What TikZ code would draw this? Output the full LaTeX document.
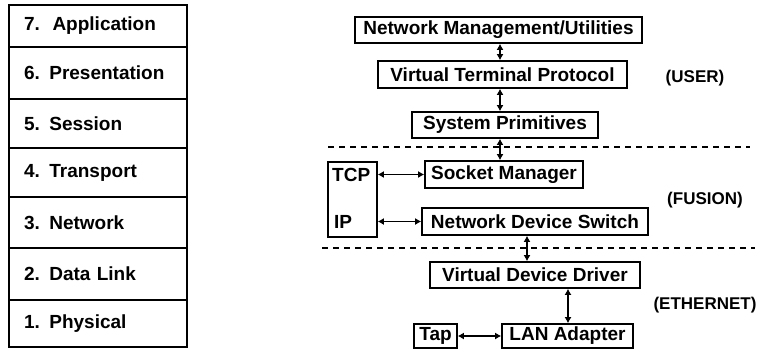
\documentclass[tikz,border=0pt]{standalone}
\usepackage{fontspec}
\setmainfont{Liberation Sans}
\usetikzlibrary{arrows.meta}

\tikzset{
  layer/.style={draw, line width=1.6pt, minimum width=178pt, text width=148pt,
    inner xsep=15pt, align=left, font=\fontsize{19}{21}\selectfont\bfseries},
  blk/.style={draw, line width=1.6pt, inner sep=2pt, font=\fontsize{19}{21}\selectfont\bfseries},
  lbl/.style={font=\fontsize{19}{21}\selectfont\bfseries, anchor=west, inner sep=0pt},
  tag/.style={font=\fontsize{17}{19}\selectfont\bfseries},
  link/.style={{Latex[length=6pt,width=7pt]}-{Latex[length=6pt,width=7pt]}, line width=1.6pt},
  sidelink/.style={{Latex[length=6pt,width=7pt]}-{Latex[length=6pt,width=7pt]}, line width=1.3pt},
  sep/.style={dash pattern=on 6pt off 5pt, line width=1.3pt}
}

\begin{document}
\begin{tikzpicture}[x=1pt,y=-1pt]
  \useasboundingbox (0,0) rectangle (766,349);

  % OSI reference stack
  \node[layer, minimum height=42] (osi7) at (98,26)    {7.\ \ Application};
  \node[layer, minimum height=52] (osi6) at (98,73)    {6. Presentation};
  \node[layer, minimum height=49] (osi5) at (98,123.5) {5. Session};
  \node[layer, minimum height=49] (osi4) at (98,172.5) {4. Transport};
  \node[layer, minimum height=51] (osi3) at (98,222.5) {3. Network};
  \node[layer, minimum height=52] (osi2) at (98,274)   {2. Data Link};
  \node[layer, minimum height=47] (osi1) at (98,323.5) {1. Physical};

  % user level
  \node[blk, minimum width=287, minimum height=26] (nm)  at (498.5,30)  {Network Management/Utilities};
  \node[blk, minimum width=249, minimum height=27] (vtp) at (502.5,74.5) {Virtual Terminal Protocol};
  \node[blk, minimum width=186, minimum height=26] (sp)  at (505,125)   {System Primitives};
  \node[tag] (user) at (695,78) {(USER)};

  % fusion level
  \node[blk, minimum width=49, minimum height=75] (tcpip) at (352.5,199.5) {};
  \node[lbl] (tcp) at (332,175) {TCP};
  \node[lbl] (ip)  at (334,222) {IP};
  \node[blk, minimum width=158, minimum height=27] (sm)  at (504,174.5) {Socket Manager};
  \node[blk, minimum width=226, minimum height=27] (nds) at (535,221.5) {Network Device Switch};
  \node[tag] (fusion) at (705,200) {(FUSION)};

  % ethernet level
  \node[blk, minimum width=210, minimum height=26] (vdd) at (535,275)   {Virtual Device Driver};
  \node[blk, minimum width=43, minimum height=24]  (tap) at (435.5,336) {Tap};
  \node[blk, minimum width=131, minimum height=24] (lan) at (567.5,336) {LAN Adapter};
  \node[tag] (ether) at (705,305) {(ETHERNET)};

  % level boundaries
  \draw[sep] (328,147) -- (750,147);
  \draw[sep] (322,248) -- (755,248);

  \coordinate (spine) at (500,0);
  \coordinate (drv) at (527,0);
  \coordinate (adp) at (568,0);

  \draw[link] (nm.south -| spine) -- (vtp.north -| spine);
  \draw[link] (vtp.south -| spine) -- (sp.north -| spine);
  \draw[link] (sp.south -| spine) -- (sm.north -| spine);
  \draw[link] (nds.south -| drv) -- (vdd.north -| drv);
  \draw[link] (vdd.south -| adp) -- (lan.north -| adp);

  \draw[sidelink] (tcpip.east |- sm) -- (sm.west);
  \draw[sidelink] (tcpip.east |- nds) -- (nds.west);
  \draw[sidelink] (tap) -- (lan);
\end{tikzpicture}
\end{document}
